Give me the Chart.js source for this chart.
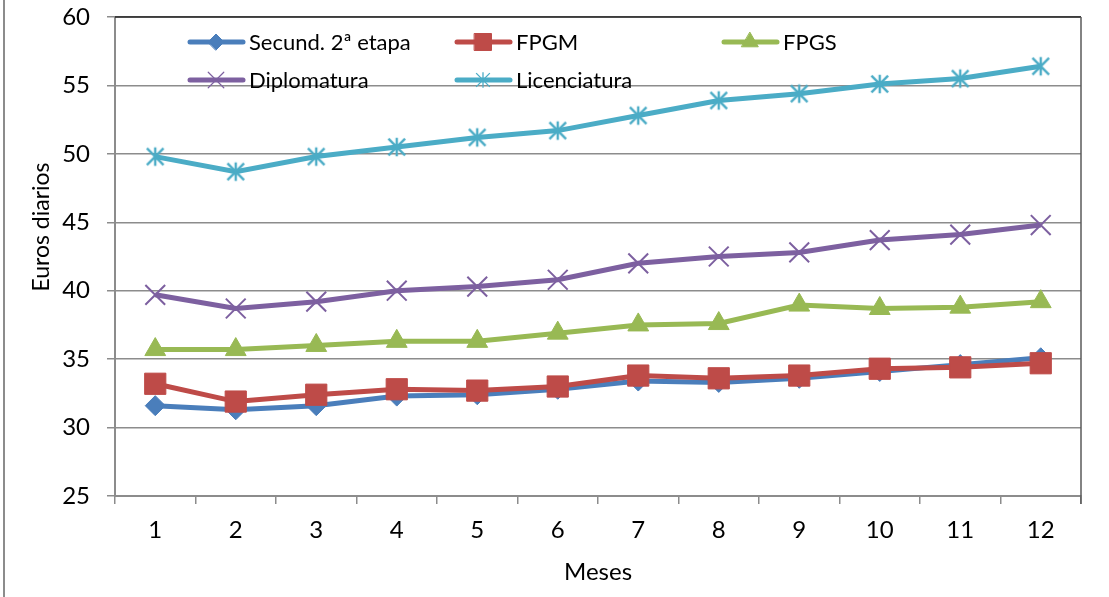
<!DOCTYPE html>
<html>
<head>
<meta charset="utf-8">
<script src="https://cdn.jsdelivr.net/npm/chart.js@4/dist/chart.umd.min.js"></script>
<style>
  html, body { margin: 0; padding: 0; background: #fff; }
  #wrap { width: 1109px; height: 597px; position: relative; }
</style>
</head>
<body>
<div id="wrap"><canvas id="chart"></canvas></div>
<script>
// ── Data ──
const months = ['1', '2', '3', '4', '5', '6', '7', '8', '9', '10', '11', '12'];
const secund       = [31.6, 31.3, 31.6, 32.3, 32.4, 32.8, 33.4, 33.3, 33.6, 34.1, 34.6, 35.1];
const fpgm         = [33.2, 31.9, 32.4, 32.8, 32.7, 33.0, 33.8, 33.6, 33.8, 34.3, 34.4, 34.7];
const fpgs         = [35.7, 35.7, 36.0, 36.3, 36.3, 36.9, 37.5, 37.6, 38.95, 38.7, 38.8, 39.2];
const diplomatura  = [39.7, 38.7, 39.2, 40.0, 40.3, 40.8, 42.0, 42.5, 42.8, 43.7, 44.1, 44.8];
const licenciatura = [49.8, 48.7, 49.8, 50.5, 51.2, 51.7, 52.8, 53.9, 54.4, 55.1, 55.5, 56.4];
const yTicks = [25, 30, 35, 40, 45, 50, 55, 60];

const FONT = "Lato, 'Open Sans', sans-serif";

// Excel-style asterisk marker: vertical bar + X (6 rays)
function asterisk(color, size, lw) {
    const c = document.createElement('canvas');
    c.width = size; c.height = size;
    const g = c.getContext('2d');
    const m = lw / 2 + 0.5, e = size - m, h = size / 2;
    g.strokeStyle = color;
    g.lineWidth = lw;
    g.beginPath();
    g.moveTo(h, m); g.lineTo(h, e);
    g.moveTo(m + 1, m + 1); g.lineTo(e - 1, e - 1);
    g.moveTo(e - 1, m + 1); g.lineTo(m + 1, e - 1);
    g.stroke();
    return c;
}

function series(label, data, color, style, radius, order, extra) {
    return Object.assign({
        label, data, order,
        borderColor: color,
        backgroundColor: color,
        borderWidth: 5,
        tension: 0,
        pointStyle: style,
        pointRadius: radius,
        pointHoverRadius: radius,
        pointBackgroundColor: color,
        pointBorderColor: color,
        pointBorderWidth: 1
    }, extra || {});
}

// ── Legend drawn in a 3-column grid inside the plot ──
const gridLegend = {
    id: 'gridLegend',
    afterDatasetsDraw(chart) {
        const ctx = chart.ctx;
        const cols = [188, 455, 722];
        const rows = [42, 80];
        chart.data.datasets.forEach((ds, i) => {
            const x = cols[i % 3], y = rows[Math.floor(i / 3)];
            ctx.save();
            ctx.strokeStyle = ds.borderColor;
            ctx.fillStyle = ds.backgroundColor;
            ctx.lineWidth = 5;
            ctx.lineCap = 'round';
            ctx.beginPath();
            ctx.moveTo(x + 2, y);
            ctx.lineTo(x + 55, y);
            ctx.stroke();
            if (ds.legendMarker) {
                const m = ds.legendMarker;
                ctx.drawImage(m, x + 28 - m.width / 2, y - m.height / 2);
            } else {
                const thin = ds.pointStyle === 'crossRot';
                ctx.lineWidth = thin ? 1.2 : 1;
                Chart.helpers.drawPoint(ctx, {
                    pointStyle: ds.pointStyle,
                    radius: thin ? 11 : ds.pointRadius * 0.8,
                    borderWidth: ctx.lineWidth,
                    rotation: 0
                }, x + 28, y);
            }
            ctx.restore();

            ctx.save();
            ctx.fillStyle = '#000';
            ctx.font = '22px ' + FONT;
            ctx.textBaseline = 'middle';
            ctx.fillText(ds.label, x + 61, y + 1);
            ctx.restore();
        });
    }
};

// ── Outer frame, plot border and y title ──
const frame = {
    id: 'frame',
    beforeDraw(chart) {
        const ctx = chart.ctx;
        ctx.save();
        ctx.fillStyle = '#fff';
        ctx.fillRect(0, 0, chart.width, chart.height);
        ctx.fillStyle = '#8c8c8c';
        ctx.fillRect(3, 0, 2, chart.height);
        ctx.restore();
    },
    afterDraw(chart) {
        const ctx = chart.ctx;
        const a = chart.chartArea;
        ctx.save();
        ctx.strokeStyle = '#222';
        ctx.lineWidth = 1.5;
        ctx.beginPath();
        ctx.moveTo(a.left, a.top);
        ctx.lineTo(a.right, a.top);
        ctx.stroke();
        ctx.strokeStyle = '#5a5a5a';
        ctx.beginPath();
        ctx.moveTo(a.right, a.top);
        ctx.lineTo(a.right, a.bottom + 8);
        ctx.stroke();
        // y axis title
        ctx.translate(42, 227);
        ctx.rotate(-Math.PI / 2);
        ctx.fillStyle = '#000';
        ctx.font = '23px ' + FONT;
        ctx.textAlign = 'center';
        ctx.textBaseline = 'middle';
        ctx.fillText('Euros diarios', 0, 0);
        ctx.restore();
    }
};

const LIC = '#4bacc6';
const ctx = document.getElementById('chart');
new Chart(ctx, {
    type: 'line',
    data: {
        labels: months,
        datasets: [
            series('Secund. 2ª etapa', secund, '#4a7ebb', 'rectRot', 10, 5),
            series('FPGM', fpgm, '#be4b48', 'rect', 15, 4),
            series('FPGS', fpgs, '#98b954', 'triangle', 12, 3),
            series('Diplomatura', diplomatura, '#7d60a0', 'crossRot', 14, 2, { pointBorderWidth: 2 }),
            series('Licenciatura', licenciatura, LIC, asterisk(LIC, 22, 2.4), 11, 1, {
                legendMarker: asterisk(LIC, 18, 1.3)
            })
        ]
    },
    options: {
        responsive: true,
        maintainAspectRatio: false,
        animation: false,
        events: [],
        layout: { padding: { left: 0, top: 17, right: 28, bottom: 0 } },
        plugins: {
            legend: { display: false },
            tooltip: { enabled: false }
        },
        scales: {
            x: {
                offset: true,
                grid: {
                    display: true,
                    drawOnChartArea: false,
                    offset: true,
                    tickLength: 8,
                    color: '#8c8c8c',
                    lineWidth: 1.5
                },
                border: { color: '#8c8c8c', width: 2 },
                ticks: {
                    padding: 12,
                    font: { size: 24, family: FONT },
                    color: '#000',
                    maxRotation: 0
                },
                title: {
                    display: true,
                    text: 'Meses',
                    font: { size: 24, family: FONT },
                    color: '#000',
                    padding: { top: 0, bottom: 10 }
                },
                afterFit: s => {
                    s.height = 597 - 496;
                    s.paddingLeft = 0;
                    s.paddingRight = 0;
                }
            },
            y: {
                min: 25,
                max: 60,
                afterBuildTicks: s => { s.ticks = yTicks.map(v => ({ value: v })); },
                grid: {
                    color: '#8c8c8c',
                    lineWidth: 1.5,
                    tickLength: 8
                },
                border: { color: '#8c8c8c', width: 2 },
                ticks: {
                    padding: 17,
                    font: { size: 24, family: FONT },
                    color: '#000'
                },
                afterFit: s => {
                    s.width = 115;
                    s.paddingTop = 0;
                    s.paddingBottom = 0;
                }
            }
        }
    },
    plugins: [frame, gridLegend]
});
</script>
</body>
</html>
